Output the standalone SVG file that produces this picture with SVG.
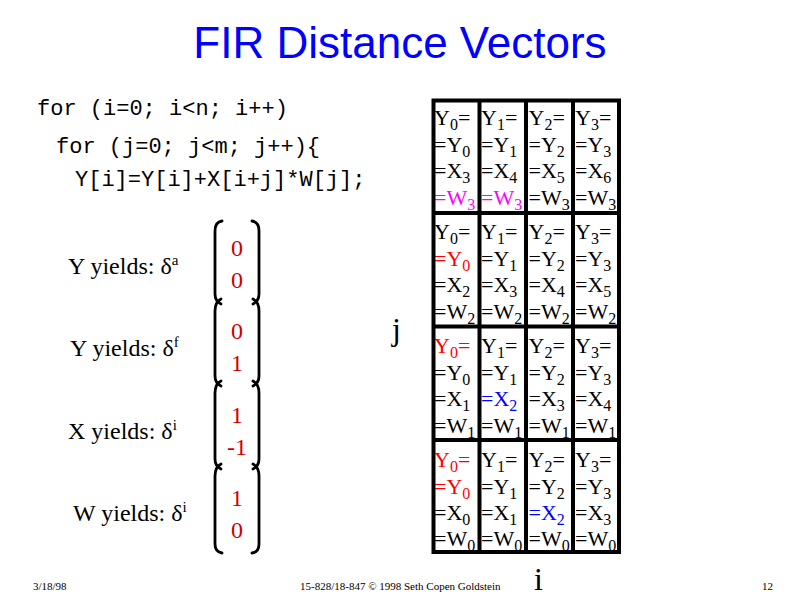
<svg xmlns="http://www.w3.org/2000/svg" width="800" height="600" viewBox="0 0 800 600">
<style>
.title{font-family:"Liberation Sans",Arial,sans-serif;font-size:44px;fill:#0000FF}
.code{font-family:"Liberation Mono","Courier New",monospace;font-size:22px;fill:#000}
.ser{font-family:"Liberation Serif","Times New Roman",serif;fill:#000}
.lbl{font-size:24px}
.lbl .sub{font-size:15px}
.vec{font-size:24px;fill:#D00000}
.cell{font-family:"Liberation Serif","Times New Roman",serif;font-size:22px;fill:#000}
.sub{font-size:16px}
.mag{fill:#FF00FF}
.red{fill:#FF0000}
.blu{fill:#0000FF}
.foot{font-family:"Liberation Serif","Times New Roman",serif;font-size:11px;fill:#000}
.br{fill:none;stroke:#000;stroke-width:2.8;stroke-linecap:round}
.grid{stroke:#000;stroke-width:4;fill:none}
</style>
<rect width="800" height="600" fill="#fff"/>
<text class="title" x="400" y="58" text-anchor="middle">FIR Distance Vectors</text>
<g id="code">
<text class="code" x="37" y="115" xml:space="preserve">for (i=0; i&lt;n; i++)</text>
<text class="code" x="56" y="153" xml:space="preserve">for (j=0; j&lt;m; j++){</text>
<text class="code" x="75" y="186">Y[i]=Y[i]+X[i+j]*W[j];</text>
</g>
<g id="labels" class="ser lbl">
<text x="68" y="274">Y yields: δ<tspan class="sub" dy="-9">a</tspan></text>
<text x="70" y="356">Y yields: δ<tspan class="sub" dy="-9">f</tspan></text>
<text x="68" y="439">X yields: δ<tspan class="sub" dy="-9">i</tspan></text>
<text x="73" y="521">W yields: δ<tspan class="sub" dy="-9">i</tspan></text>
</g>
<g id="brackets">
<path class="br" d="M222,221 Q215,222 215,231 L215,294 Q215,301 221,304"/>
<path class="br" d="M221,299 Q215,302 215,311 L215,376 Q215,383 221,386"/>
<path class="br" d="M221,381 Q215,384 215,393 L215,459 Q215,466 221,469"/>
<path class="br" d="M221,464 Q215,467 215,476 L215,544 Q215,552 222,553"/>
<path class="br" d="M252,221 Q259,222 259,231 L259,294 Q259,301 253,304"/>
<path class="br" d="M253,299 Q259,302 259,311 L259,376 Q259,383 253,386"/>
<path class="br" d="M253,381 Q259,384 259,393 L259,459 Q259,466 253,469"/>
<path class="br" d="M253,464 Q259,467 259,476 L259,544 Q259,552 252,553"/>
</g>
<g id="vectors" class="ser vec" text-anchor="middle">
<text x="237" y="256">0</text><text x="237" y="288">0</text>
<text x="237" y="339">0</text><text x="237" y="371">1</text>
<text x="237" y="423">1</text><text x="237" y="455">-1</text>
<text x="237" y="506">1</text><text x="237" y="538">0</text>
</g>
<text id="axis-j" class="ser" x="392" y="340" font-size="32">j</text>
<text id="axis-i" class="ser" x="534" y="590" font-size="32">i</text>

<g id="cells" class="cell">
<g id="c-j3-i0">
<text x="434" y="125">Y<tspan class="sub" dy="5">0</tspan><tspan dy="-5">=</tspan></text>
<text x="434" y="151.5">=Y<tspan class="sub" dy="5">0</tspan></text>
<text x="434" y="178">=X<tspan class="sub" dy="5">3</tspan></text>
<text x="434" y="204.5" class="mag">=W<tspan class="sub" dy="5">3</tspan></text>
</g>
<g id="c-j3-i1">
<text x="481" y="125">Y<tspan class="sub" dy="5">1</tspan><tspan dy="-5">=</tspan></text>
<text x="481" y="151.5">=Y<tspan class="sub" dy="5">1</tspan></text>
<text x="481" y="178">=X<tspan class="sub" dy="5">4</tspan></text>
<text x="481" y="204.5" class="mag">=W<tspan class="sub" dy="5">3</tspan></text>
</g>
<g id="c-j3-i2">
<text x="528.5" y="125">Y<tspan class="sub" dy="5">2</tspan><tspan dy="-5">=</tspan></text>
<text x="528.5" y="151.5">=Y<tspan class="sub" dy="5">2</tspan></text>
<text x="528.5" y="178">=X<tspan class="sub" dy="5">5</tspan></text>
<text x="528.5" y="204.5">=W<tspan class="sub" dy="5">3</tspan></text>
</g>
<g id="c-j3-i3">
<text x="575" y="125">Y<tspan class="sub" dy="5">3</tspan><tspan dy="-5">=</tspan></text>
<text x="575" y="151.5">=Y<tspan class="sub" dy="5">3</tspan></text>
<text x="575" y="178">=X<tspan class="sub" dy="5">6</tspan></text>
<text x="575" y="204.5">=W<tspan class="sub" dy="5">3</tspan></text>
</g>
<g id="c-j2-i0">
<text x="434" y="239">Y<tspan class="sub" dy="5">0</tspan><tspan dy="-5">=</tspan></text>
<text x="434" y="265.5" class="red">=Y<tspan class="sub" dy="5">0</tspan></text>
<text x="434" y="292">=X<tspan class="sub" dy="5">2</tspan></text>
<text x="434" y="318.5">=W<tspan class="sub" dy="5">2</tspan></text>
</g>
<g id="c-j2-i1">
<text x="481" y="239">Y<tspan class="sub" dy="5">1</tspan><tspan dy="-5">=</tspan></text>
<text x="481" y="265.5">=Y<tspan class="sub" dy="5">1</tspan></text>
<text x="481" y="292">=X<tspan class="sub" dy="5">3</tspan></text>
<text x="481" y="318.5">=W<tspan class="sub" dy="5">2</tspan></text>
</g>
<g id="c-j2-i2">
<text x="528.5" y="239">Y<tspan class="sub" dy="5">2</tspan><tspan dy="-5">=</tspan></text>
<text x="528.5" y="265.5">=Y<tspan class="sub" dy="5">2</tspan></text>
<text x="528.5" y="292">=X<tspan class="sub" dy="5">4</tspan></text>
<text x="528.5" y="318.5">=W<tspan class="sub" dy="5">2</tspan></text>
</g>
<g id="c-j2-i3">
<text x="575" y="239">Y<tspan class="sub" dy="5">3</tspan><tspan dy="-5">=</tspan></text>
<text x="575" y="265.5">=Y<tspan class="sub" dy="5">3</tspan></text>
<text x="575" y="292">=X<tspan class="sub" dy="5">5</tspan></text>
<text x="575" y="318.5">=W<tspan class="sub" dy="5">2</tspan></text>
</g>
<g id="c-j1-i0">
<text x="434" y="353" class="red">Y<tspan class="sub" dy="5">0</tspan><tspan dy="-5">=</tspan></text>
<text x="434" y="379.5">=Y<tspan class="sub" dy="5">0</tspan></text>
<text x="434" y="406">=X<tspan class="sub" dy="5">1</tspan></text>
<text x="434" y="432.5">=W<tspan class="sub" dy="5">1</tspan></text>
</g>
<g id="c-j1-i1">
<text x="481" y="353">Y<tspan class="sub" dy="5">1</tspan><tspan dy="-5">=</tspan></text>
<text x="481" y="379.5">=Y<tspan class="sub" dy="5">1</tspan></text>
<text x="481" y="406" class="blu">=X<tspan class="sub" dy="5">2</tspan></text>
<text x="481" y="432.5">=W<tspan class="sub" dy="5">1</tspan></text>
</g>
<g id="c-j1-i2">
<text x="528.5" y="353">Y<tspan class="sub" dy="5">2</tspan><tspan dy="-5">=</tspan></text>
<text x="528.5" y="379.5">=Y<tspan class="sub" dy="5">2</tspan></text>
<text x="528.5" y="406">=X<tspan class="sub" dy="5">3</tspan></text>
<text x="528.5" y="432.5">=W<tspan class="sub" dy="5">1</tspan></text>
</g>
<g id="c-j1-i3">
<text x="575" y="353">Y<tspan class="sub" dy="5">3</tspan><tspan dy="-5">=</tspan></text>
<text x="575" y="379.5">=Y<tspan class="sub" dy="5">3</tspan></text>
<text x="575" y="406">=X<tspan class="sub" dy="5">4</tspan></text>
<text x="575" y="432.5">=W<tspan class="sub" dy="5">1</tspan></text>
</g>
<g id="c-j0-i0">
<text x="434" y="467" class="red">Y<tspan class="sub" dy="5">0</tspan><tspan dy="-5">=</tspan></text>
<text x="434" y="493.5" class="red">=Y<tspan class="sub" dy="5">0</tspan></text>
<text x="434" y="520">=X<tspan class="sub" dy="5">0</tspan></text>
<text x="434" y="546">=W<tspan class="sub" dy="5">0</tspan></text>
</g>
<g id="c-j0-i1">
<text x="481" y="467">Y<tspan class="sub" dy="5">1</tspan><tspan dy="-5">=</tspan></text>
<text x="481" y="493.5">=Y<tspan class="sub" dy="5">1</tspan></text>
<text x="481" y="520">=X<tspan class="sub" dy="5">1</tspan></text>
<text x="481" y="546">=W<tspan class="sub" dy="5">0</tspan></text>
</g>
<g id="c-j0-i2">
<text x="528.5" y="467">Y<tspan class="sub" dy="5">2</tspan><tspan dy="-5">=</tspan></text>
<text x="528.5" y="493.5">=Y<tspan class="sub" dy="5">2</tspan></text>
<text x="528.5" y="520" class="blu">=X<tspan class="sub" dy="5">2</tspan></text>
<text x="528.5" y="546">=W<tspan class="sub" dy="5">0</tspan></text>
</g>
<g id="c-j0-i3">
<text x="575" y="467">Y<tspan class="sub" dy="5">3</tspan><tspan dy="-5">=</tspan></text>
<text x="575" y="493.5">=Y<tspan class="sub" dy="5">3</tspan></text>
<text x="575" y="520">=X<tspan class="sub" dy="5">3</tspan></text>
<text x="575" y="546">=W<tspan class="sub" dy="5">0</tspan></text>
</g>
</g>
<g id="grid" class="grid">
<rect x="433.5" y="100.5" width="185.5" height="451.5"/>
<line x1="479.5" y1="100.5" x2="479.5" y2="552"/>
<line x1="526" y1="100.5" x2="526" y2="552"/>
<line x1="573" y1="100.5" x2="573" y2="552"/>
<line x1="433.5" y1="213" x2="619" y2="213"/>
<line x1="433.5" y1="326.5" x2="619" y2="326.5"/>
<line x1="433.5" y1="440" x2="619" y2="440"/>
</g>
<g id="footer">
<text class="foot" x="33" y="590">3/18/98</text>
<text class="foot" x="300" y="590">15-828/18-847 © 1998 Seth Copen Goldstein</text>
<text class="foot" x="762" y="590">12</text>
</g>
</svg>
